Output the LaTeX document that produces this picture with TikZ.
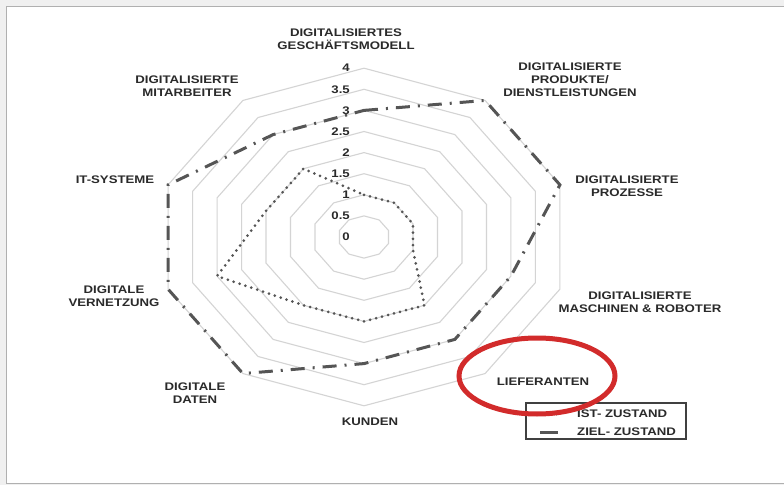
\documentclass[tikz,border=0pt]{standalone}
\usepackage{fontspec}
\newfontfamily\radarfont{Liberation Sans}[FakeStretch=1.2]
\usetikzlibrary{positioning}

\definecolor{pagegray}{HTML}{F0F0F0}
\definecolor{framegray}{HTML}{B0B0B0}
\definecolor{ringgray}{HTML}{D4D4D4}
\definecolor{linegray}{HTML}{555555}
\definecolor{textgray}{HTML}{2A2A2A}
\definecolor{markred}{HTML}{D22B2B}

% point on axis #1 (0 = top, clockwise) at value #2
\newcommand{\rpt}[2]{({364+51.5*(#2)*cos(90-36*(#1))},{237-42.2*(#2)*sin(90-36*(#1))})}

\begin{document}
\begin{tikzpicture}[
    x=1bp, y=-1bp,
    axislabel/.style={font=\radarfont\bfseries\fontsize{11bp}{13bp}\selectfont, text=textgray, align=center, inner sep=0pt},
    ticklabel/.style={font=\radarfont\bfseries\fontsize{11bp}{13bp}\selectfont, text=textgray, anchor=east, inner sep=0pt},
    ring/.style={draw=ringgray, line width=1.1bp},
    ist/.style={draw=linegray, line width=3bp, line cap=round, dash pattern=on 0bp off 6.2bp},
    ziel/.style={draw=linegray, line width=3bp, dash pattern=on 14bp off 8bp on 2bp off 8bp},
    legendbox/.style={draw=black!75, line width=1.2bp, minimum width=160bp, minimum height=36bp},
    highlight/.style={draw=markred, line width=5bp}
]
    % Page and frame
    \useasboundingbox (0,0) rectangle (784,485);
    \fill[pagegray] (0,0) rectangle (784,485);
    \draw[framegray, line width=1.5bp, fill=white] (6.5,6.5) rectangle (800,483.5);

    % Rings
    \foreach \r in {0.5,1,...,4}
        \draw[ring] \rpt{0}{\r} \foreach \k in {1,...,9}{ -- \rpt{\k}{\r} } -- cycle;

    % Scale
    \foreach \v/\t [count=\i] in {0/0,0.5/0.5,1/1,1.5/1.5,2/2,2.5/2.5,3/3,3.5/3.5,4/4}
        \node[ticklabel] (tick\i) at (350,{237-42.2*\v}) {\t};

    % Ist-Zustand
    \draw[ist] \rpt{0}{1} -- \rpt{1}{1} -- \rpt{2}{1} -- \rpt{3}{1} -- \rpt{4}{2}
        -- \rpt{5}{2} -- \rpt{6}{2} -- \rpt{7}{3} -- \rpt{8}{2} -- \rpt{9}{2} -- cycle;

    % Ziel-Zustand
    \draw[ziel] \rpt{0}{3} -- \rpt{1}{4} -- \rpt{2}{4} -- \rpt{3}{3} -- \rpt{4}{3}
        -- \rpt{5}{3} -- \rpt{6}{4} -- \rpt{7}{4} -- \rpt{8}{4} -- \rpt{9}{3} -- cycle;

    % Axis labels
    \node[axislabel] (modell) at (346,39.5) {DIGITALISIERTES\\GESCHÄFTSMODELL};
    \node[axislabel] (produkte) at (570,80) {DIGITALISIERTE\\PRODUKTE/\\DIENSTLEISTUNGEN};
    \node[axislabel] (prozesse) at (627,186) {DIGITALISIERTE\\PROZESSE};
    \node[axislabel] (maschinen) at (640,302) {DIGITALISIERTE\\MASCHINEN \& ROBOTER};
    \node[axislabel] (lieferanten) at (543,382) {LIEFERANTEN};
    \node[axislabel] (kunden) at (370,422) {KUNDEN};
    \node[axislabel] (daten) at (195,393.5) {DIGITALE\\DATEN};
    \node[axislabel] (vernetzung) at (114,296.5) {DIGITALE\\VERNETZUNG};
    \node[axislabel] (itsysteme) at (115,180) {IT-SYSTEME};
    \node[axislabel] (mitarbeiter) at (187,86) {DIGITALISIERTE\\MITARBEITER};

    % Legend
    \node[legendbox] (legend) at (606,421) {};
    \node[axislabel, anchor=west] (istkey) at (577,414) {IST- ZUSTAND};
    \node[axislabel, anchor=west] (zielkey) at (577,432) {ZIEL- ZUSTAND};
    \draw[ist] (538,414) -- (560,414);
    \draw[draw=linegray, line width=3bp] (540,432) -- (558,432);

    % Highlight
    \draw[highlight] (537,376) ellipse [x radius=78bp, y radius=38bp];
\end{tikzpicture}
\end{document}
